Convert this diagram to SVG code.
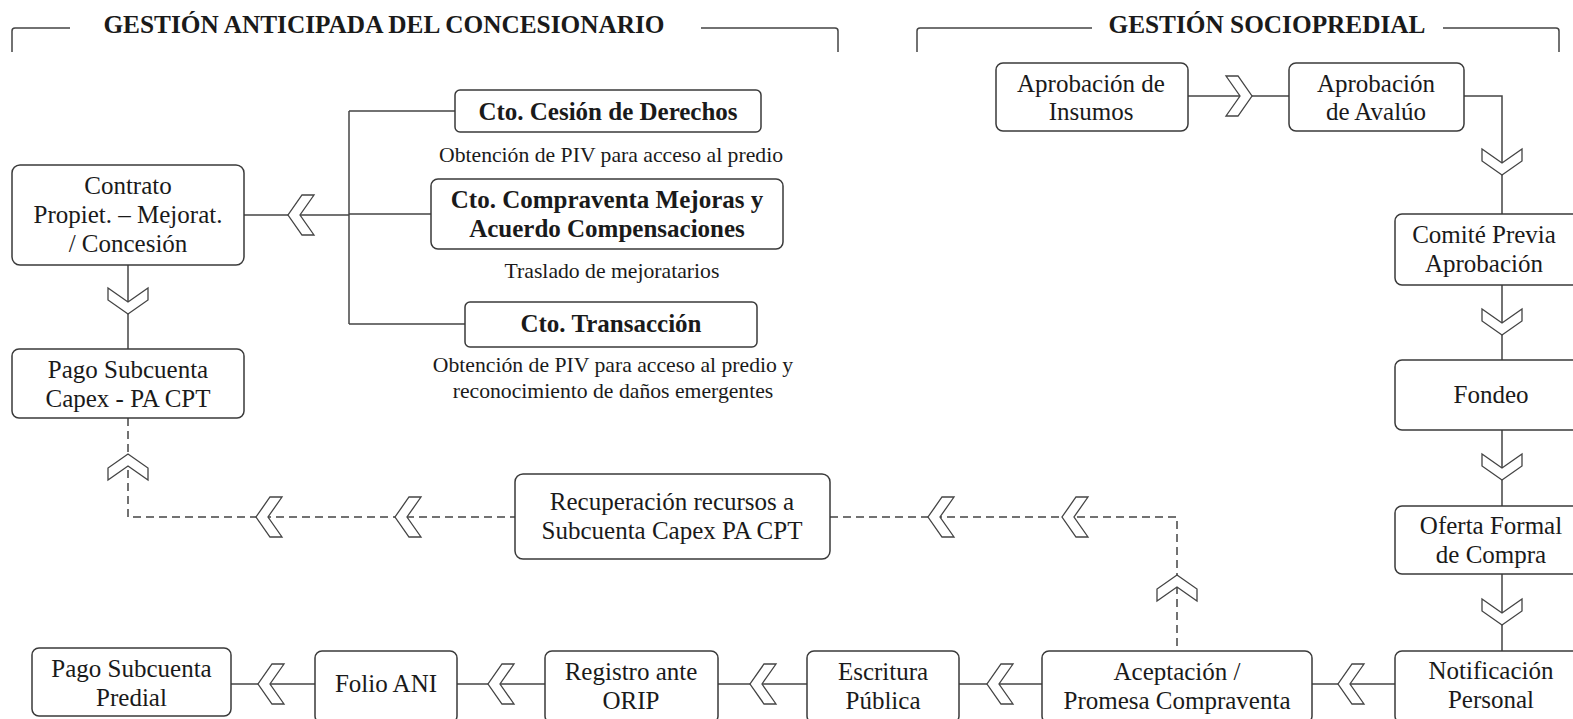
<svg xmlns="http://www.w3.org/2000/svg" width="1573" height="719" viewBox="0 0 1573 719">
<style>
.bx{fill:#fff;stroke:#3a3a3a;stroke-width:1.5}
.ln{fill:none;stroke:#444;stroke-width:1.5}
.ds{fill:none;stroke:#444;stroke-width:1.5;stroke-dasharray:8 5}
.ch{fill:#fff;stroke:#444;stroke-width:1.3;stroke-linejoin:miter}
text{font-family:"Liberation Serif","DejaVu Serif",serif;fill:#1a1a1a;text-anchor:middle}
.t{font-size:25px;font-weight:normal}
.b{font-size:25px;font-weight:bold}
.h{font-size:25.3px;font-weight:bold}
.s{font-size:21.7px;font-weight:normal}
</style>
<defs>
<polygon id="chev" class="ch" points="-13,-20 -1,-20 13,0 -1,20 -13,20 1,0"/>
</defs>
<g id="headers">
<path class="ln" d="M12,52 V31 Q12,28 15,28 H70"/>
<text class="h" x="384" y="33">GESTIÓN ANTICIPADA DEL CONCESIONARIO</text>
<path class="ln" d="M701,28 H835 Q838,28 838,31 V52"/>
<path class="ln" d="M917,52 V31 Q917,28 920,28 H1092"/>
<text class="h" x="1267" y="33">GESTIÓN SOCIOPREDIAL</text>
<path class="ln" d="M1443,28 H1556 Q1559,28 1559,31 V52"/>
</g>
<g id="connectors">
<path class="ln" d="M244,215 H349"/>
<path class="ln" d="M349,111 V324"/>
<path class="ln" d="M349,111 H455 M349,214 H431 M349,324 H465"/>
<path class="ln" d="M128,265 V349"/>
<path class="ds" d="M128,418 V517 H515"/>
<path class="ds" d="M830,517 H1177 V651"/>
<path class="ln" d="M231,684 H1395"/>
<path class="ln" d="M1188,96 H1289"/>
<path class="ln" d="M1464,96 H1502 V651"/>
<use href="#chev" transform="translate(301,215) rotate(180)"/>
<use href="#chev" transform="translate(128,301) rotate(90)"/>
<use href="#chev" transform="translate(128,467) rotate(-90)"/>
<use href="#chev" transform="translate(269,517) rotate(180)"/>
<use href="#chev" transform="translate(408,517) rotate(180)"/>
<use href="#chev" transform="translate(941,517) rotate(180)"/>
<use href="#chev" transform="translate(1075,517) rotate(180)"/>
<use href="#chev" transform="translate(1177,588) rotate(-90)"/>
<use href="#chev" transform="translate(271,684) rotate(180)"/>
<use href="#chev" transform="translate(501,684) rotate(180)"/>
<use href="#chev" transform="translate(763,684) rotate(180)"/>
<use href="#chev" transform="translate(1000,684) rotate(180)"/>
<use href="#chev" transform="translate(1351,684) rotate(180)"/>
<use href="#chev" transform="translate(1239,96)"/>
<use href="#chev" transform="translate(1502,162) rotate(90)"/>
<use href="#chev" transform="translate(1502,322) rotate(90)"/>
<use href="#chev" transform="translate(1502,467) rotate(90)"/>
<use href="#chev" transform="translate(1502,612) rotate(90)"/>
</g>
<g id="n-contrato">
<rect class="bx" x="12" y="165" width="232" height="100" rx="8"/>
<text class="t" x="128" y="194">Contrato</text>
<text class="t" x="128" y="223">Propiet. – Mejorat.</text>
<text class="t" x="128" y="252">/ Concesión</text>
</g>
<g id="n-pago-capex">
<rect class="bx" x="12" y="349" width="232" height="69" rx="7"/>
<text class="t" x="128" y="378">Pago Subcuenta</text>
<text class="t" x="128" y="407">Capex - PA CPT</text>
</g>
<g id="n-cesion">
<rect class="bx" x="455" y="90" width="306" height="42" rx="5"/>
<text class="b" x="608" y="119.5">Cto. Cesión de Derechos</text>
</g>
<text class="s" x="611" y="162">Obtención de PIV para acceso al predio</text>
<g id="n-compraventa">
<rect class="bx" x="431" y="179" width="352" height="70" rx="7"/>
<text class="b" x="607" y="208">Cto. Compraventa Mejoras y</text>
<text class="b" x="607" y="237">Acuerdo Compensaciones</text>
</g>
<text class="s" x="612" y="278">Traslado de mejoratarios</text>
<g id="n-transaccion">
<rect class="bx" x="465" y="302" width="292" height="45" rx="5"/>
<text class="b" x="611" y="332">Cto. Transacción</text>
</g>
<text class="s" x="613" y="372">Obtención de PIV para acceso al predio y</text>
<text class="s" x="613" y="398">reconocimiento de daños emergentes</text>
<g id="n-recuperacion">
<rect class="bx" x="515" y="474" width="315" height="85" rx="8"/>
<text class="t" x="672" y="510">Recuperación recursos a</text>
<text class="t" x="672" y="539">Subcuenta Capex PA CPT</text>
</g>
<g id="n-insumos">
<rect class="bx" x="996" y="63" width="192" height="68" rx="7"/>
<text class="t" x="1091" y="92">Aprobación de</text>
<text class="t" x="1091" y="120">Insumos</text>
</g>
<g id="n-avaluo">
<rect class="bx" x="1289" y="63" width="175" height="68" rx="7"/>
<text class="t" x="1376" y="92">Aprobación</text>
<text class="t" x="1376" y="120">de Avalúo</text>
</g>
<g id="n-comite">
<rect class="bx" x="1395" y="214" width="200" height="71" rx="7"/>
<text class="t" x="1484" y="243">Comité Previa</text>
<text class="t" x="1484" y="272">Aprobación</text>
</g>
<g id="n-fondeo">
<rect class="bx" x="1395" y="360" width="200" height="70" rx="7"/>
<text class="t" x="1491" y="403">Fondeo</text>
</g>
<g id="n-oferta">
<rect class="bx" x="1395" y="506" width="200" height="68" rx="7"/>
<text class="t" x="1491" y="534">Oferta Formal</text>
<text class="t" x="1491" y="563">de Compra</text>
</g>
<g id="n-notificacion">
<rect class="bx" x="1395" y="651" width="200" height="72" rx="7"/>
<text class="t" x="1491" y="679">Notificación</text>
<text class="t" x="1491" y="708">Personal</text>
</g>
<g id="n-aceptacion">
<rect class="bx" x="1042" y="651" width="270" height="72" rx="7"/>
<text class="t" x="1177" y="680">Aceptación /</text>
<text class="t" x="1177" y="709">Promesa Compraventa</text>
</g>
<g id="n-escritura">
<rect class="bx" x="807" y="651" width="152" height="72" rx="7"/>
<text class="t" x="883" y="680">Escritura</text>
<text class="t" x="883" y="709">Pública</text>
</g>
<g id="n-registro">
<rect class="bx" x="545" y="651" width="173" height="72" rx="7"/>
<text class="t" x="631" y="680">Registro ante</text>
<text class="t" x="631" y="709">ORIP</text>
</g>
<g id="n-folio">
<rect class="bx" x="315" y="651" width="142" height="72" rx="7"/>
<text class="t" x="386" y="692">Folio ANI</text>
</g>
<g id="n-pago-predial">
<rect class="bx" x="32" y="648" width="199" height="68" rx="7"/>
<text class="t" x="131.5" y="677">Pago Subcuenta</text>
<text class="t" x="131.5" y="706">Predial</text>
</g>
</svg>
